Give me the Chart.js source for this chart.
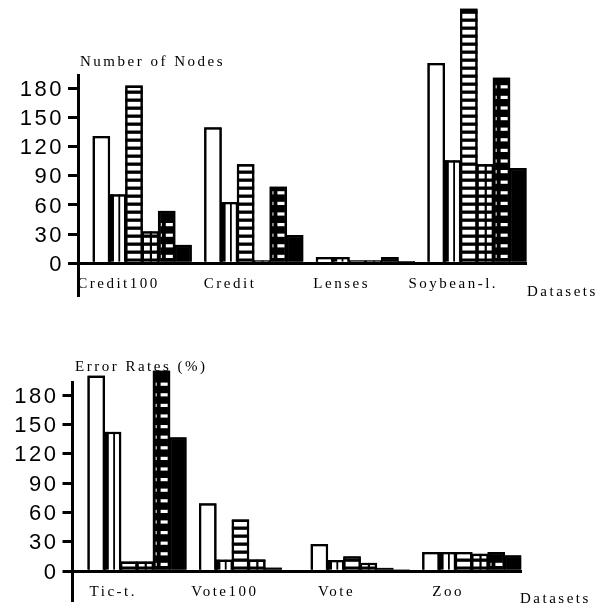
<!DOCTYPE html>
<html>
<head>
<meta charset="utf-8">
<script src="https://cdn.jsdelivr.net/npm/chart.js@4/dist/chart.umd.min.js"></script>
<style>
  html, body { margin: 0; padding: 0; background: #fff; }
  #page { position: relative; width: 598px; height: 605px; overflow: hidden; }
  canvas { position: absolute; left: 0; display: block; }
  #nodes { top: 0; }
  #errors { top: 305px; }
</style>
</head>
<body>
<div id="page">
  <canvas id="nodes" width="598" height="305"></canvas>
  <canvas id="errors" width="598" height="300"></canvas>
</div>
<script>
// ---- data ----------------------------------------------------------------
const nodeDatasets  = ['Credit100', 'Credit', 'Lenses', 'Soybean-l.'];
const errorDatasets = ['Tic-t.', 'Vote100', 'Vote', 'Zoo'];
const yTicks = [0, 30, 60, 90, 120, 150, 180];

// Number of nodes, one array per bar style (left to right inside a group)
const nodesOpen       = [131, 140, 6.5, 206];
const nodesVertical   = [71, 63, 6.5, 106];
const nodesHorizontal = [183, 102, 3, 262];
const nodesGrid       = [33, 3, 3, 102];
const nodesDotted     = [54, 79, 6.5, 191];
const nodesSolid      = [19, 29, 2.5, 98];

// Error rates (%)
const errorsOpen       = [200, 69.5, 28, 19.7];
const errorsVertical   = [142.5, 12, 11.5, 19.7];
const errorsHorizontal = [10, 53, 15.5, 19.7];
const errorsGrid       = [10, 12, 8.7, 18];
const errorsDotted     = [205, 3.8, 3.7, 19.7];
const errorsSolid      = [137, 1.5, 2, 16.5];

// ---- styling ---------------------------------------------------------------
const INK = '#000';
const PAPER = '#fff';
const STYLES = ['open', 'vstripe', 'hstripe', 'grid', 'dotted', 'solid'];
const FILLS  = [PAPER, PAPER, PAPER, PAPER, INK, INK];
const SERIF = '"Liberation Serif", "Times New Roman", serif';
const SANS  = '"Liberation Sans", Arial, sans-serif';

// inner hatching of one bar, clipped to the bar rectangle
function hatch(ctx, style, el) {
  const p = el.getProps(['x', 'y', 'base', 'width'], true);
  const left = p.x - p.width / 2;
  const top = Math.min(p.y, p.base);
  const bottom = Math.max(p.y, p.base);
  const w = p.width, h = bottom - top;
  if (h < 1) return;
  ctx.save();
  ctx.beginPath();
  ctx.rect(left, top, w, h);
  ctx.clip();
  if (style === 'vstripe') {
    ctx.fillStyle = INK;
    ctx.fillRect(left, top, w * 0.29, h);
    ctx.fillRect(left + w * 0.54, top, 1.8, h);
  } else if (style === 'hstripe' || style === 'grid') {
    ctx.fillStyle = INK;
    for (let yy = bottom; yy > top; yy -= 8) ctx.fillRect(left, yy - 3.3, w, 3.3);
    if (style === 'grid') ctx.fillRect(left + w * 0.47, top, 2.2, h);
  } else if (style === 'dotted') {
    ctx.fillStyle = PAPER;
    for (let yy = bottom - 7; yy > top + 3; yy -= 10.6) {
      ctx.fillRect(left + w * 0.45, yy, w * 0.4, 3.2);
      ctx.fillRect(left + 3, yy, 1, 3.2);
    }
  }
  ctx.restore();
}

// redraws the bars in series order so each bar overlaps the one before it
const hatchPlugin = {
  id: 'hatch',
  afterDatasetsDraw(chart) {
    const ctx = chart.ctx;
    chart.data.datasets.forEach((ds, i) => {
      const meta = chart.getDatasetMeta(i);
      meta.data.forEach(el => {
        el.draw(ctx);
        hatch(ctx, STYLES[i], el);
      });
    });
  }
};

const spacingPlugin = {
  id: 'spacing',
  beforeLayout(chart) { chart.ctx.letterSpacing = '2.5px'; },
  beforeDraw(chart) { chart.ctx.letterSpacing = '2.5px'; }
};

function captions(title, titleX, axisName, axisNameX, axisNameY) {
  return {
    id: 'captions',
    beforeDatasetsDraw(chart) {
      const ctx = chart.ctx;
      ctx.save();
      ctx.letterSpacing = '2.5px';
      ctx.font = '15px ' + SERIF;
      ctx.fillStyle = INK;
      ctx.textAlign = 'left';
      ctx.textBaseline = 'alphabetic';
      ctx.fillText(title, titleX, 66);
      ctx.fillText(axisName, axisNameX, axisNameY);
      ctx.restore();
    }
  };
}

function buildPanel(canvasId, categories, seriesList, frame, extraPlugin) {
  return new Chart(document.getElementById(canvasId), {
    type: 'bar',
    data: {
      datasets: seriesList.map((values, i) => ({
        label: STYLES[i],
        data: values.map((v, k) => ({ x: k, y: v })),
        backgroundColor: FILLS[i],
        borderColor: INK,
        borderWidth: 2.5,
        categoryPercentage: 0.878,
        barPercentage: 1.08,
        clip: false
      }))
    },
    options: {
      responsive: false,
      animation: false,
      events: [],
      layout: { padding: { top: frame.top, bottom: frame.bottom, left: 0, right: frame.right } },
      plugins: { legend: { display: false }, tooltip: { enabled: false }, title: { display: false } },
      scales: {
        x: {
          type: 'linear',
          position: { y: 0 },
          offset: false,
          min: frame.xMin,
          max: frame.xMax,
          afterBuildTicks: axis => { axis.ticks = categories.map((c, k) => ({ value: k })); },
          afterFit: axis => { axis.paddingLeft = 0; axis.paddingRight = 0; },
          ticks: {
            callback: v => categories[v] ?? '',
            labelOffset: -23.7,
            padding: 11.5,
            maxRotation: 0,
            autoSkip: false,
            color: INK,
            font: { family: SERIF, size: 15 }
          },
          grid: { display: false, drawTicks: false, offset: false },
          border: { display: true, color: INK, width: 3 }
        },
        y: {
          min: frame.yMin,
          max: frame.yMax,
          afterBuildTicks: axis => { axis.ticks = yTicks.map(v => ({ value: v })); },
          afterFit: axis => { axis.width = frame.left; axis.paddingTop = 0; axis.paddingBottom = 0; },
          ticks: {
            color: INK,
            padding: 4,
            labelOffset: 1.5,
            font: { family: SANS, size: 22 }
          },
          grid: { drawOnChartArea: false, drawTicks: true, tickLength: 10, lineWidth: 3, color: INK },
          border: { display: true, color: INK, width: 3 }
        }
      }
    },
    plugins: [spacingPlugin, extraPlugin, hatchPlugin]
  });
}

buildPanel('nodes', nodeDatasets,
  [nodesOpen, nodesVertical, nodesHorizontal, nodesGrid, nodesDotted, nodesSolid],
  { left: 78, top: 75, bottom: 10, right: 72, xMin: -0.575, xMax: 3.439, yMin: -32.6, yMax: 193.7 },
  captions('Number of Nodes', 80, 'Datasets', 527, 296));

buildPanel('errors', errorDatasets,
  [errorsOpen, errorsVertical, errorsHorizontal, errorsGrid, errorsDotted, errorsSolid],
  { left: 72.5, top: 77, bottom: 5, right: 77, xMin: -0.578, xMax: 3.441, yMin: -29.3, yMax: 193.3 },
  captions('Error Rates (%)', 75, 'Datasets', 520, 298));
</script>
</body>
</html>
